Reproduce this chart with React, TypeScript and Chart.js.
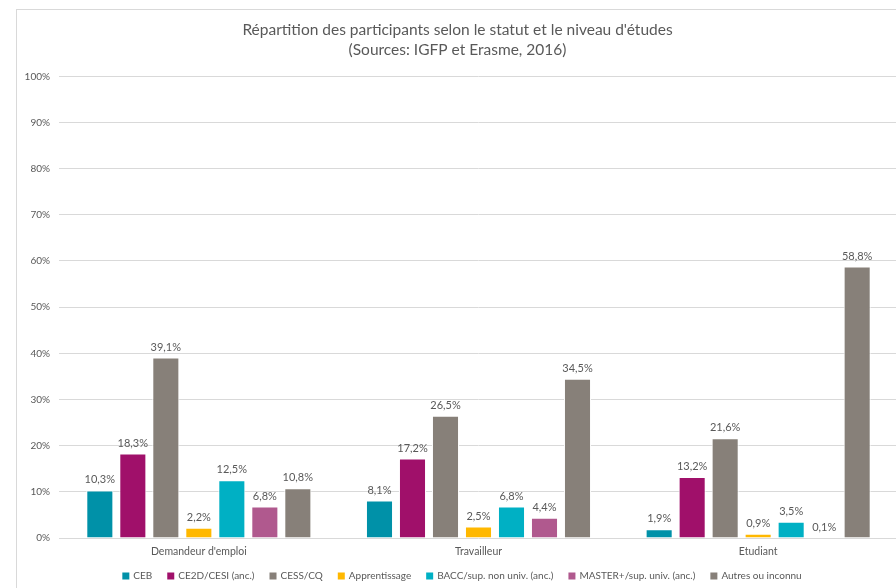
import React, { useEffect, useRef } from "react";
import { Chart, registerables } from "chart.js";

Chart.register(...registerables);

const categories = ["Demandeur d'emploi", "Travailleur", "Etudiant"];
const seriesNames = [
  "CEB",
  "CE2D/CESI (anc.)",
  "CESS/CQ",
  "Apprentissage",
  "BACC/sup. non univ. (anc.)",
  "MASTER+/sup. univ. (anc.)",
  "Autres ou inconnu",
];
const ceb = [10.3, 8.1, 1.9];
const ce2d = [18.3, 17.2, 13.2];
const cess = [39.1, 26.5, 21.6];
const apprentissage = [2.2, 2.5, 0.9];
const bacc = [12.5, 6.8, 3.5];
const master = [6.8, 4.4, 0.1];
const autres = [10.8, 34.5, 58.8];
const yTicks = [0, 10, 20, 30, 40, 50, 60, 70, 80, 90, 100];

const seriesValues = [ceb, ce2d, cess, apprentissage, bacc, master, autres];
const seriesColors = [
  "#0091A8",
  "#A0106A",
  "#878079",
  "#FFB800",
  "#00B0C4",
  "#B0598E",
  "#878079",
];

const FONT = "Lato";
const TEXT = "#595959";

const fmt = (v: number) => v.toFixed(1).replace(".", ",") + "%";

const dataLabelPlugin = {
  id: "dataLabels",
  afterDatasetsDraw(chart: any) {
    const ctx = chart.ctx;
    ctx.save();
    ctx.font = `11px ${FONT}`;
    ctx.fillStyle = TEXT;
    ctx.textAlign = "center";
    ctx.textBaseline = "bottom";
    chart.data.datasets.forEach((ds: any, i: number) => {
      const meta = chart.getDatasetMeta(i);
      meta.data.forEach((bar: any, j: number) => {
        ctx.fillText(fmt(ds.data[j]), bar.x, bar.y - 5);
      });
    });
    ctx.restore();
  },
};

const legendPlugin = {
  id: "customLegend",
  afterDraw(chart: any) {
    const ctx = chart.ctx;
    const box = 7;
    const gap = 4;
    const spacing = 15;
    ctx.save();
    ctx.font = `10px ${FONT}`;
    const items = chart.data.datasets.map((ds: any) => ({
      text: ds.label,
      color: ds.backgroundColor,
      w: box + gap + ctx.measureText(ds.label).width,
    }));
    const total =
      items.reduce((a: number, it: any) => a + it.w, 0) + spacing * (items.length - 1);
    let x = 445 - total / 2;
    const y = chart.chartArea.bottom + 38;
    ctx.textBaseline = "middle";
    ctx.textAlign = "left";
    items.forEach((it: any) => {
      ctx.fillStyle = it.color;
      ctx.fillRect(x, y - box / 2, box, box);
      ctx.fillStyle = TEXT;
      ctx.fillText(it.text, x + box + gap, y);
      x += it.w + spacing;
    });
    ctx.restore();
  },
};

export default function App() {
  const ref = useRef<HTMLCanvasElement>(null);
  useEffect(() => {
    if (!ref.current) return;
    const chart = new Chart(ref.current, {
      type: "bar",
      data: {
        labels: categories,
        datasets: seriesNames.map((name, i) => ({
          label: name,
          data: seriesValues[i],
          backgroundColor: seriesColors[i],
          borderColor: "#ffffff",
          borderWidth: 1,
          categoryPercentage: 0.826,
          barPercentage: 0.82,
        })),
      },
      options: {
        responsive: false,
        animation: false,
        devicePixelRatio: 1,
        layout: { padding: { left: 0, right: 13, top: 0, bottom: 28 } },
        plugins: {
          title: {
            display: true,
            text: [
              "Répartition des participants selon le statut et le niveau d'études",
              "(Sources: IGFP et Erasme, 2016)",
            ],
            color: TEXT,
            font: { family: FONT, size: 15.5, weight: "normal", lineHeight: 1.3 },
            padding: { top: 10, bottom: 16 },
          },
          legend: { display: false },
          tooltip: { enabled: false },
        },
        scales: {
          x: {
            grid: { display: false, drawTicks: false },
            border: { display: false },
            ticks: { color: TEXT, font: { family: FONT, size: 10.5 }, padding: 7 },
            afterFit: (s: any) => {
              s.height = 24;
            },
          },
          y: {
            min: 0,
            max: 100,
            afterBuildTicks: (s: any) => {
              s.ticks = yTicks.map((v) => ({ value: v }));
            },
            grid: { color: "#d9d9d9", drawTicks: false },
            border: { display: false },
            ticks: {
              color: TEXT,
              font: { family: FONT, size: 10 },
              padding: 9,
              callback: (v: any) => v + "%",
            },
            afterFit: (s: any) => {
              s.width = 42;
            },
          },
        },
      },
      plugins: [dataLabelPlugin, legendPlugin],
    });
    return () => chart.destroy();
  }, []);

  return (
    <div
      style={{
        position: "fixed",
        left: 16,
        top: 9,
        width: 920,
        height: 600,
        borderLeft: "1px solid #d9d9d9",
        borderTop: "1px solid #d9d9d9",
        background: "#fff",
      }}
    >
      <canvas ref={ref} width={894} height={580} style={{ display: "block" }} />
    </div>
  );
}
